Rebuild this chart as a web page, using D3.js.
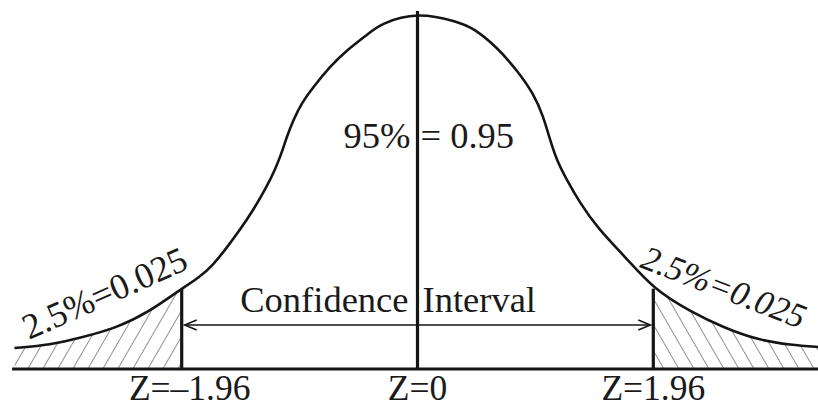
<!DOCTYPE html>
<html>
<head>
<meta charset="utf-8">
<script src="https://cdn.jsdelivr.net/npm/d3@7"></script>
<style>
  html, body { margin: 0; padding: 0; background: #fff; }
  svg { display: block; }
</style>
</head>
<body>
<svg id="chart" width="818" height="407"></svg>
<script>
// ---- data ----
const curveZ = [-3.35, -3.05, -2.8, -2.5, -2.23, -1.96, -1.81, -1.70, -1.59, -1.475, -1.365, -1.254, -1.185, -1.129, -1.087, -1.032, -0.963, -0.866, -0.727, -0.589, -0.422, -0.31, 0,
                0.34, 0.464, 0.658, 0.825, 0.963, 1.046, 1.101, 1.157, 1.24, 1.351, 1.49, 1.75, 1.96, 2.27, 2.55, 2.83, 3.1, 3.35];
const curveDensity = [0.0235, 0.027, 0.035, 0.046, 0.064, 0.090, 0.103, 0.1165, 0.135, 0.156, 0.178, 0.204, 0.223, 0.242, 0.260, 0.279, 0.298, 0.316, 0.339, 0.357, 0.374, 0.387, 0.4,
                      0.389, 0.382, 0.361, 0.335, 0.309, 0.283, 0.257, 0.234, 0.212, 0.186, 0.159, 0.122, 0.090, 0.064, 0.046, 0.0325, 0.027, 0.0245];
const criticalZ = [-1.96, 0, 1.96];
const zLabels = ["Z=\u20131.96", "Z=0", "Z=1.96"];
const axisExtent = [-3.37, 3.35];
const tailLabel = "2.5%=0.025";
const centerLeft = "95%";
const centerRight = "= 0.95";
const intervalWords = ["Confidence", "Interval"];

const pts = curveZ.map((z, i) => ({ z: z, d: curveDensity[i] }));

const svg = d3.select("#chart");
const x = d3.scaleLinear().domain([-1.96, 1.96]).range([181.7, 653.3]);
const y = d3.scaleLinear().domain([0, 0.4]).range([369, 12]);

const ink = "#151515";

// ---- hatch patterns ----
const defs = svg.append("defs");
function hatch(id, angle) {
  const p = defs.append("pattern")
    .attr("id", id).attr("patternUnits", "userSpaceOnUse")
    .attr("width", 13).attr("height", 13)
    .attr("patternTransform", `rotate(${angle})`);
  p.append("line").attr("x1", 0).attr("y1", -1).attr("x2", 0).attr("y2", 14)
    .attr("stroke", "#333").attr("stroke-width", 1.1);
}
hatch("hatchL", 30);
hatch("hatchR", -30);

defs.append("clipPath").attr("id", "clipL").append("rect")
  .attr("x", 0).attr("y", 0).attr("width", x(-1.96)).attr("height", 407);
defs.append("clipPath").attr("id", "clipR").append("rect")
  .attr("x", x(1.96)).attr("y", 0).attr("width", 818 - x(1.96)).attr("height", 407);

const area = d3.area().x(d => x(d.z)).y0(y(0)).y1(d => y(d.d)).curve(d3.curveBasis);
const line = d3.line().x(d => x(d.z)).y(d => y(d.d)).curve(d3.curveBasis);

svg.append("path").datum(pts).attr("d", area).attr("fill", "url(#hatchL)").attr("clip-path", "url(#clipL)");
svg.append("path").datum(pts).attr("d", area).attr("fill", "url(#hatchR)").attr("clip-path", "url(#clipR)");

// curve
svg.append("path").datum(pts).attr("d", line)
  .attr("fill", "none").attr("stroke", ink).attr("stroke-width", 2.6);

// baseline
svg.append("line")
  .attr("x1", x(axisExtent[0])).attr("x2", x(axisExtent[1]))
  .attr("y1", y(0)).attr("y2", y(0))
  .attr("stroke", ink).attr("stroke-width", 2.8);

// vertical lines
const densAt = z => pts.find(p => p.z === z).d;
svg.selectAll(".vline").data(criticalZ).enter().append("line")
  .attr("x1", d => x(d)).attr("x2", d => x(d))
  .attr("y1", y(0)).attr("y2", d => y(densAt(d)) - (d === 0 ? 1 : 0))
  .attr("stroke", ink).attr("stroke-width", 3.2);

// double arrow
const ay = 325;
const ax1 = x(-1.96) + 3, ax2 = x(1.96) - 3;
svg.append("line").attr("x1", ax1).attr("x2", ax2).attr("y1", ay).attr("y2", ay)
  .attr("stroke", ink).attr("stroke-width", 1.6);
svg.append("path").attr("d", `M${ax1 + 12},${ay - 5} L${ax1},${ay} L${ax1 + 12},${ay + 5}`)
  .attr("fill", "none").attr("stroke", ink).attr("stroke-width", 1.6);
svg.append("path").attr("d", `M${ax2 - 12},${ay - 5} L${ax2},${ay} L${ax2 - 12},${ay + 5}`)
  .attr("fill", "none").attr("stroke", ink).attr("stroke-width", 1.6);

function txt(sel) {
  return sel.style("font-family", '"Liberation Serif"').attr("fill", "#1a1a1a");
}

// Z labels
svg.selectAll(".zlab").data(criticalZ).enter().append("text")
  .call(txt)
  .attr("x", (d, i) => x(d) + (i === 0 ? 8 : 0))
  .attr("y", 400)
  .attr("text-anchor", "middle")
  .attr("font-size", 35.5)
  .text((d, i) => zLabels[i]);

// center labels
svg.append("text").call(txt).attr("x", x(0) - 7).attr("y", 148).attr("text-anchor", "end")
  .attr("font-size", 36.5).text(centerLeft);
svg.append("text").call(txt).attr("x", x(0) + 3).attr("y", 148).attr("text-anchor", "start")
  .attr("font-size", 36.5).text(centerRight);

// confidence interval label
svg.append("text").call(txt).attr("x", x(0) - 9).attr("y", 312).attr("text-anchor", "end")
  .attr("font-size", 36.5).text(intervalWords[0]);
svg.append("text").call(txt).attr("x", x(0) + 5).attr("y", 312).attr("text-anchor", "start")
  .attr("font-size", 36.5).text(intervalWords[1]);

// tail labels
svg.append("text").call(txt).attr("transform", "translate(29,340) rotate(-24)")
  .attr("font-size", 36).text(tailLabel);
svg.append("text").call(txt).attr("transform", "translate(639,267) rotate(21)")
  .attr("font-size", 34.5).attr("font-style", "italic").text(tailLabel);
</script>
</body>
</html>
